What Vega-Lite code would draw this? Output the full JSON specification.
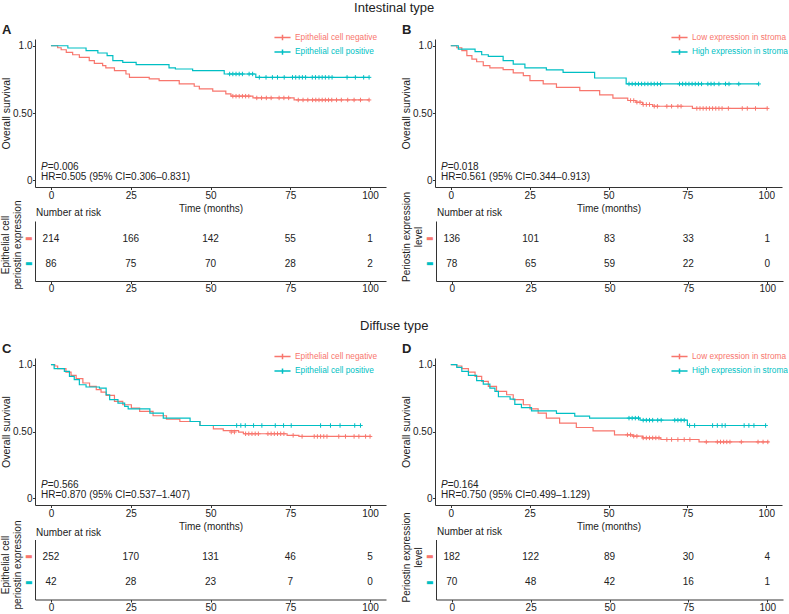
{
"$schema":"https://vega.github.io/schema/vega-lite/v6.json",
"padding":{"left":0,"top":2,"right":0,"bottom":0},
"config":{"font":"Liberation Sans","view":{"stroke":null},
"axis":{"grid":false,"domainColor":"#333","tickColor":"#333","labelColor":"#222","titleColor":"#222","labelFontSize":10,"titleFontSize":10,"titleFontWeight":"normal","tickSize":2.5,"labelPadding":1,"domainWidth":1,"tickWidth":1,"labelFont":"Liberation Sans","titleFont":"Liberation Sans","labelOverlap":false},
"title":{"fontWeight":"normal","color":"#222","font":"Liberation Sans"},
"legend":{"labelFont":"Liberation Sans"}},
"datasets":{
"km":[
{"p":"A","g":"neg","t":0,"s":1},{"p":"A","g":"neg","t":2.1,"s":0.985},{"p":"A","g":"neg","t":3.2,"s":0.97},{"p":"A","g":"neg","t":4.8,"s":0.951},{"p":"A","g":"neg","t":6.8,"s":0.933},{"p":"A","g":"neg","t":8.9,"s":0.914},{"p":"A","g":"neg","t":12,"s":0.889},{"p":"A","g":"neg","t":13.6,"s":0.869},{"p":"A","g":"neg","t":16.2,"s":0.852},{"p":"A","g":"neg","t":17.2,"s":0.835},{"p":"A","g":"neg","t":19.9,"s":0.815},{"p":"A","g":"neg","t":23.5,"s":0.79},{"p":"A","g":"neg","t":24.6,"s":0.765},{"p":"A","g":"neg","t":30.8,"s":0.753},{"p":"A","g":"neg","t":33.9,"s":0.74},{"p":"A","g":"neg","t":40.2,"s":0.716},{"p":"A","g":"neg","t":44.9,"s":0.699},{"p":"A","g":"neg","t":46.5,"s":0.679},{"p":"A","g":"neg","t":50.7,"s":0.662},{"p":"A","g":"neg","t":54.8,"s":0.642},{"p":"A","g":"neg","t":56.4,"s":0.625},{"p":"A","g":"neg","t":63.3,"s":0.612},{"p":"A","g":"neg","t":76.2,"s":0.597},{"p":"A","g":"neg","t":99.7,"s":0.597},
{"p":"A","g":"pos","t":0,"s":1},{"p":"A","g":"pos","t":5.3,"s":0.983},{"p":"A","g":"pos","t":11,"s":0.963},{"p":"A","g":"pos","t":14.7,"s":0.946},{"p":"A","g":"pos","t":17.6,"s":0.926},{"p":"A","g":"pos","t":19.4,"s":0.889},{"p":"A","g":"pos","t":22.5,"s":0.877},{"p":"A","g":"pos","t":26.7,"s":0.859},{"p":"A","g":"pos","t":37,"s":0.835},{"p":"A","g":"pos","t":39,"s":0.827},{"p":"A","g":"pos","t":44.4,"s":0.815},{"p":"A","g":"pos","t":54.3,"s":0.79},{"p":"A","g":"pos","t":64.2,"s":0.765},{"p":"A","g":"pos","t":99.7,"s":0.765},
{"p":"B","g":"neg","t":0,"s":1},{"p":"B","g":"neg","t":1.9,"s":0.985},{"p":"B","g":"neg","t":3.5,"s":0.963},{"p":"B","g":"neg","t":5.1,"s":0.926},{"p":"B","g":"neg","t":6.7,"s":0.901},{"p":"B","g":"neg","t":8.2,"s":0.881},{"p":"B","g":"neg","t":10.3,"s":0.852},{"p":"B","g":"neg","t":12.4,"s":0.835},{"p":"B","g":"neg","t":16.6,"s":0.822},{"p":"B","g":"neg","t":19.8,"s":0.798},{"p":"B","g":"neg","t":23,"s":0.778},{"p":"B","g":"neg","t":25.1,"s":0.741},{"p":"B","g":"neg","t":29.3,"s":0.716},{"p":"B","g":"neg","t":33.5,"s":0.691},{"p":"B","g":"neg","t":40.9,"s":0.667},{"p":"B","g":"neg","t":47.2,"s":0.635},{"p":"B","g":"neg","t":51.4,"s":0.61},{"p":"B","g":"neg","t":56.1,"s":0.593},{"p":"B","g":"neg","t":58.7,"s":0.58},{"p":"B","g":"neg","t":60.8,"s":0.563},{"p":"B","g":"neg","t":64,"s":0.55},{"p":"B","g":"neg","t":76.6,"s":0.534},{"p":"B","g":"neg","t":100.5,"s":0.534},
{"p":"B","g":"pos","t":0,"s":1},{"p":"B","g":"pos","t":2.4,"s":0.975},{"p":"B","g":"pos","t":7.7,"s":0.956},{"p":"B","g":"pos","t":9.8,"s":0.933},{"p":"B","g":"pos","t":11.9,"s":0.921},{"p":"B","g":"pos","t":16.6,"s":0.889},{"p":"B","g":"pos","t":19.8,"s":0.864},{"p":"B","g":"pos","t":23.5,"s":0.835},{"p":"B","g":"pos","t":30.3,"s":0.82},{"p":"B","g":"pos","t":35.6,"s":0.802},{"p":"B","g":"pos","t":45.6,"s":0.76},{"p":"B","g":"pos","t":55.6,"s":0.716},{"p":"B","g":"pos","t":97.7,"s":0.716},
{"p":"C","g":"neg","t":0,"s":1},{"p":"C","g":"neg","t":1.2,"s":0.99},{"p":"C","g":"neg","t":2.1,"s":0.97},{"p":"C","g":"neg","t":4.7,"s":0.945},{"p":"C","g":"neg","t":6.3,"s":0.92},{"p":"C","g":"neg","t":7.9,"s":0.895},{"p":"C","g":"neg","t":10,"s":0.863},{"p":"C","g":"neg","t":12.1,"s":0.838},{"p":"C","g":"neg","t":14.2,"s":0.813},{"p":"C","g":"neg","t":15.7,"s":0.795},{"p":"C","g":"neg","t":17.3,"s":0.77},{"p":"C","g":"neg","t":19.9,"s":0.725},{"p":"C","g":"neg","t":22.5,"s":0.7},{"p":"C","g":"neg","t":25.2,"s":0.675},{"p":"C","g":"neg","t":27.8,"s":0.65},{"p":"C","g":"neg","t":32,"s":0.618},{"p":"C","g":"neg","t":36.2,"s":0.593},{"p":"C","g":"neg","t":40.4,"s":0.575},{"p":"C","g":"neg","t":46.7,"s":0.545},{"p":"C","g":"neg","t":50.9,"s":0.52},{"p":"C","g":"neg","t":54,"s":0.506},{"p":"C","g":"neg","t":58.8,"s":0.496},{"p":"C","g":"neg","t":60.3,"s":0.483},{"p":"C","g":"neg","t":74,"s":0.471},{"p":"C","g":"neg","t":77.7,"s":0.463},{"p":"C","g":"neg","t":100.2,"s":0.463},
{"p":"C","g":"pos","t":0,"s":1},{"p":"C","g":"pos","t":1,"s":0.97},{"p":"C","g":"pos","t":4.2,"s":0.95},{"p":"C","g":"pos","t":5.8,"s":0.913},{"p":"C","g":"pos","t":7.3,"s":0.888},{"p":"C","g":"pos","t":8.9,"s":0.85},{"p":"C","g":"pos","t":11,"s":0.833},{"p":"C","g":"pos","t":15.2,"s":0.825},{"p":"C","g":"pos","t":17.3,"s":0.775},{"p":"C","g":"pos","t":18.4,"s":0.738},{"p":"C","g":"pos","t":21,"s":0.713},{"p":"C","g":"pos","t":23.1,"s":0.688},{"p":"C","g":"pos","t":24.2,"s":0.67},{"p":"C","g":"pos","t":31,"s":0.637},{"p":"C","g":"pos","t":35.2,"s":0.6},{"p":"C","g":"pos","t":43.6,"s":0.575},{"p":"C","g":"pos","t":46.7,"s":0.545},{"p":"C","g":"pos","t":97.2,"s":0.545},
{"p":"D","g":"neg","t":0,"s":1},{"p":"D","g":"neg","t":1.9,"s":0.99},{"p":"D","g":"neg","t":3.5,"s":0.97},{"p":"D","g":"neg","t":5.6,"s":0.945},{"p":"D","g":"neg","t":7.7,"s":0.912},{"p":"D","g":"neg","t":9.8,"s":0.875},{"p":"D","g":"neg","t":11.9,"s":0.838},{"p":"D","g":"neg","t":14.5,"s":0.8},{"p":"D","g":"neg","t":17.7,"s":0.775},{"p":"D","g":"neg","t":19.8,"s":0.738},{"p":"D","g":"neg","t":23,"s":0.7},{"p":"D","g":"neg","t":25.1,"s":0.67},{"p":"D","g":"neg","t":27.7,"s":0.637},{"p":"D","g":"neg","t":30.3,"s":0.6},{"p":"D","g":"neg","t":34.5,"s":0.563},{"p":"D","g":"neg","t":39.8,"s":0.53},{"p":"D","g":"neg","t":45.1,"s":0.505},{"p":"D","g":"neg","t":51.9,"s":0.475},{"p":"D","g":"neg","t":57.7,"s":0.465},{"p":"D","g":"neg","t":60.8,"s":0.452},{"p":"D","g":"neg","t":66.6,"s":0.44},{"p":"D","g":"neg","t":78.7,"s":0.422},{"p":"D","g":"neg","t":100.8,"s":0.422},
{"p":"D","g":"pos","t":0,"s":1},{"p":"D","g":"pos","t":1.9,"s":0.98},{"p":"D","g":"pos","t":3.5,"s":0.95},{"p":"D","g":"pos","t":5.6,"s":0.92},{"p":"D","g":"pos","t":8.2,"s":0.88},{"p":"D","g":"pos","t":10.3,"s":0.855},{"p":"D","g":"pos","t":12.4,"s":0.825},{"p":"D","g":"pos","t":14,"s":0.8},{"p":"D","g":"pos","t":15.1,"s":0.76},{"p":"D","g":"pos","t":18.8,"s":0.742},{"p":"D","g":"pos","t":20.3,"s":0.703},{"p":"D","g":"pos","t":22.4,"s":0.678},{"p":"D","g":"pos","t":25.6,"s":0.655},{"p":"D","g":"pos","t":33.5,"s":0.635},{"p":"D","g":"pos","t":39.3,"s":0.615},{"p":"D","g":"pos","t":44,"s":0.6},{"p":"D","g":"pos","t":60,"s":0.585},{"p":"D","g":"pos","t":75,"s":0.545},{"p":"D","g":"pos","t":99.8,"s":0.545}
],
"cens":[
{"p":"A","g":"neg","t":57,"s":0.625},{"p":"A","g":"neg","t":58,"s":0.625},{"p":"A","g":"neg","t":59,"s":0.625},{"p":"A","g":"neg","t":60,"s":0.625},{"p":"A","g":"neg","t":61,"s":0.625},{"p":"A","g":"neg","t":62,"s":0.625},{"p":"A","g":"neg","t":64.5,"s":0.612},{"p":"A","g":"neg","t":66,"s":0.612},{"p":"A","g":"neg","t":67.5,"s":0.612},{"p":"A","g":"neg","t":69,"s":0.612},{"p":"A","g":"neg","t":71.5,"s":0.612},{"p":"A","g":"neg","t":73,"s":0.612},{"p":"A","g":"neg","t":74.5,"s":0.612},{"p":"A","g":"neg","t":77.5,"s":0.597},{"p":"A","g":"neg","t":79,"s":0.597},{"p":"A","g":"neg","t":80.5,"s":0.597},{"p":"A","g":"neg","t":82,"s":0.597},{"p":"A","g":"neg","t":83,"s":0.597},{"p":"A","g":"neg","t":84,"s":0.597},{"p":"A","g":"neg","t":85,"s":0.597},{"p":"A","g":"neg","t":86,"s":0.597},{"p":"A","g":"neg","t":87,"s":0.597},{"p":"A","g":"neg","t":88,"s":0.597},{"p":"A","g":"neg","t":89.5,"s":0.597},{"p":"A","g":"neg","t":91,"s":0.597},{"p":"A","g":"neg","t":93,"s":0.597},{"p":"A","g":"neg","t":95,"s":0.597},{"p":"A","g":"neg","t":97,"s":0.597},{"p":"A","g":"neg","t":99.7,"s":0.597},
{"p":"A","g":"pos","t":56,"s":0.79},{"p":"A","g":"pos","t":57,"s":0.79},{"p":"A","g":"pos","t":58,"s":0.79},{"p":"A","g":"pos","t":59,"s":0.79},{"p":"A","g":"pos","t":60,"s":0.79},{"p":"A","g":"pos","t":62.1,"s":0.79},{"p":"A","g":"pos","t":63.2,"s":0.79},{"p":"A","g":"pos","t":65.3,"s":0.765},{"p":"A","g":"pos","t":67.4,"s":0.765},{"p":"A","g":"pos","t":69.4,"s":0.765},{"p":"A","g":"pos","t":71,"s":0.765},{"p":"A","g":"pos","t":73.1,"s":0.765},{"p":"A","g":"pos","t":75.7,"s":0.765},{"p":"A","g":"pos","t":76.7,"s":0.765},{"p":"A","g":"pos","t":77.8,"s":0.765},{"p":"A","g":"pos","t":78.8,"s":0.765},{"p":"A","g":"pos","t":79.8,"s":0.765},{"p":"A","g":"pos","t":81.9,"s":0.765},{"p":"A","g":"pos","t":82.9,"s":0.765},{"p":"A","g":"pos","t":84,"s":0.765},{"p":"A","g":"pos","t":85,"s":0.765},{"p":"A","g":"pos","t":86,"s":0.765},{"p":"A","g":"pos","t":87.1,"s":0.765},{"p":"A","g":"pos","t":88.1,"s":0.765},{"p":"A","g":"pos","t":92.8,"s":0.765},{"p":"A","g":"pos","t":95.4,"s":0.765},{"p":"A","g":"pos","t":98,"s":0.765},{"p":"A","g":"pos","t":99.7,"s":0.765},
{"p":"B","g":"neg","t":57,"s":0.593},{"p":"B","g":"neg","t":58,"s":0.593},{"p":"B","g":"neg","t":59,"s":0.58},{"p":"B","g":"neg","t":60,"s":0.58},{"p":"B","g":"neg","t":61,"s":0.563},{"p":"B","g":"neg","t":62,"s":0.563},{"p":"B","g":"neg","t":63,"s":0.563},{"p":"B","g":"neg","t":64.5,"s":0.55},{"p":"B","g":"neg","t":65.5,"s":0.55},{"p":"B","g":"neg","t":68.5,"s":0.55},{"p":"B","g":"neg","t":70,"s":0.55},{"p":"B","g":"neg","t":72,"s":0.55},{"p":"B","g":"neg","t":73,"s":0.55},{"p":"B","g":"neg","t":78,"s":0.534},{"p":"B","g":"neg","t":79,"s":0.534},{"p":"B","g":"neg","t":80,"s":0.534},{"p":"B","g":"neg","t":81,"s":0.534},{"p":"B","g":"neg","t":82,"s":0.534},{"p":"B","g":"neg","t":83,"s":0.534},{"p":"B","g":"neg","t":84,"s":0.534},{"p":"B","g":"neg","t":85,"s":0.534},{"p":"B","g":"neg","t":86,"s":0.534},{"p":"B","g":"neg","t":88,"s":0.534},{"p":"B","g":"neg","t":92.4,"s":0.534},{"p":"B","g":"neg","t":94,"s":0.534},{"p":"B","g":"neg","t":96.6,"s":0.534},{"p":"B","g":"neg","t":100.3,"s":0.534},
{"p":"B","g":"pos","t":56.5,"s":0.716},{"p":"B","g":"pos","t":57.5,"s":0.716},{"p":"B","g":"pos","t":58.5,"s":0.716},{"p":"B","g":"pos","t":59.5,"s":0.716},{"p":"B","g":"pos","t":60.5,"s":0.716},{"p":"B","g":"pos","t":61.5,"s":0.716},{"p":"B","g":"pos","t":62.5,"s":0.716},{"p":"B","g":"pos","t":63.5,"s":0.716},{"p":"B","g":"pos","t":64.5,"s":0.716},{"p":"B","g":"pos","t":65.5,"s":0.716},{"p":"B","g":"pos","t":66.5,"s":0.716},{"p":"B","g":"pos","t":72.5,"s":0.716},{"p":"B","g":"pos","t":73.5,"s":0.716},{"p":"B","g":"pos","t":74.5,"s":0.716},{"p":"B","g":"pos","t":75.5,"s":0.716},{"p":"B","g":"pos","t":76.5,"s":0.716},{"p":"B","g":"pos","t":77.5,"s":0.716},{"p":"B","g":"pos","t":78.5,"s":0.716},{"p":"B","g":"pos","t":79.5,"s":0.716},{"p":"B","g":"pos","t":81.5,"s":0.716},{"p":"B","g":"pos","t":82.5,"s":0.716},{"p":"B","g":"pos","t":83.5,"s":0.716},{"p":"B","g":"pos","t":85,"s":0.716},{"p":"B","g":"pos","t":87.1,"s":0.716},{"p":"B","g":"pos","t":88.2,"s":0.716},{"p":"B","g":"pos","t":91.3,"s":0.716},{"p":"B","g":"pos","t":97.6,"s":0.716},
{"p":"C","g":"neg","t":56.5,"s":0.496},{"p":"C","g":"neg","t":57.5,"s":0.496},{"p":"C","g":"neg","t":61,"s":0.483},{"p":"C","g":"neg","t":62,"s":0.483},{"p":"C","g":"neg","t":63,"s":0.483},{"p":"C","g":"neg","t":64,"s":0.483},{"p":"C","g":"neg","t":65,"s":0.483},{"p":"C","g":"neg","t":68,"s":0.483},{"p":"C","g":"neg","t":69,"s":0.483},{"p":"C","g":"neg","t":70,"s":0.483},{"p":"C","g":"neg","t":71,"s":0.483},{"p":"C","g":"neg","t":72,"s":0.483},{"p":"C","g":"neg","t":73,"s":0.483},{"p":"C","g":"neg","t":75.9,"s":0.471},{"p":"C","g":"neg","t":78.7,"s":0.463},{"p":"C","g":"neg","t":82.5,"s":0.463},{"p":"C","g":"neg","t":83.5,"s":0.463},{"p":"C","g":"neg","t":84.5,"s":0.463},{"p":"C","g":"neg","t":85.5,"s":0.463},{"p":"C","g":"neg","t":86.5,"s":0.463},{"p":"C","g":"neg","t":90.2,"s":0.463},{"p":"C","g":"neg","t":92.3,"s":0.463},{"p":"C","g":"neg","t":95,"s":0.463},{"p":"C","g":"neg","t":96.5,"s":0.463},{"p":"C","g":"neg","t":98.6,"s":0.463},{"p":"C","g":"neg","t":100,"s":0.463},
{"p":"C","g":"pos","t":58.2,"s":0.545},{"p":"C","g":"pos","t":59.5,"s":0.545},{"p":"C","g":"pos","t":60.9,"s":0.545},{"p":"C","g":"pos","t":63.5,"s":0.545},{"p":"C","g":"pos","t":66.1,"s":0.545},{"p":"C","g":"pos","t":70.3,"s":0.545},{"p":"C","g":"pos","t":72.9,"s":0.545},{"p":"C","g":"pos","t":75.3,"s":0.545},{"p":"C","g":"pos","t":84.5,"s":0.545},{"p":"C","g":"pos","t":87.6,"s":0.545},{"p":"C","g":"pos","t":90.6,"s":0.545},{"p":"C","g":"pos","t":95.2,"s":0.545},{"p":"C","g":"pos","t":97,"s":0.545},
{"p":"D","g":"neg","t":56,"s":0.475},{"p":"D","g":"neg","t":57,"s":0.475},{"p":"D","g":"neg","t":58,"s":0.465},{"p":"D","g":"neg","t":59,"s":0.465},{"p":"D","g":"neg","t":61,"s":0.452},{"p":"D","g":"neg","t":62,"s":0.452},{"p":"D","g":"neg","t":63,"s":0.452},{"p":"D","g":"neg","t":64,"s":0.452},{"p":"D","g":"neg","t":65,"s":0.452},{"p":"D","g":"neg","t":66,"s":0.452},{"p":"D","g":"neg","t":68.5,"s":0.44},{"p":"D","g":"neg","t":70,"s":0.44},{"p":"D","g":"neg","t":72,"s":0.44},{"p":"D","g":"neg","t":74,"s":0.44},{"p":"D","g":"neg","t":75.8,"s":0.44},{"p":"D","g":"neg","t":81,"s":0.422},{"p":"D","g":"neg","t":84.5,"s":0.422},{"p":"D","g":"neg","t":85.5,"s":0.422},{"p":"D","g":"neg","t":86.5,"s":0.422},{"p":"D","g":"neg","t":87.5,"s":0.422},{"p":"D","g":"neg","t":88.5,"s":0.422},{"p":"D","g":"neg","t":92.1,"s":0.422},{"p":"D","g":"neg","t":97.4,"s":0.422},{"p":"D","g":"neg","t":99,"s":0.422},{"p":"D","g":"neg","t":100.5,"s":0.422},
{"p":"D","g":"pos","t":56.5,"s":0.6},{"p":"D","g":"pos","t":57.5,"s":0.6},{"p":"D","g":"pos","t":58.5,"s":0.6},{"p":"D","g":"pos","t":59.5,"s":0.6},{"p":"D","g":"pos","t":61,"s":0.585},{"p":"D","g":"pos","t":62,"s":0.585},{"p":"D","g":"pos","t":63,"s":0.585},{"p":"D","g":"pos","t":64,"s":0.585},{"p":"D","g":"pos","t":65.6,"s":0.585},{"p":"D","g":"pos","t":66.7,"s":0.585},{"p":"D","g":"pos","t":71,"s":0.585},{"p":"D","g":"pos","t":72,"s":0.585},{"p":"D","g":"pos","t":73,"s":0.585},{"p":"D","g":"pos","t":74,"s":0.585},{"p":"D","g":"pos","t":75.7,"s":0.545},{"p":"D","g":"pos","t":77.3,"s":0.545},{"p":"D","g":"pos","t":83,"s":0.545},{"p":"D","g":"pos","t":84.5,"s":0.545},{"p":"D","g":"pos","t":86,"s":0.545},{"p":"D","g":"pos","t":87,"s":0.545},{"p":"D","g":"pos","t":93,"s":0.545},{"p":"D","g":"pos","t":94.5,"s":0.545},{"p":"D","g":"pos","t":96.1,"s":0.545},{"p":"D","g":"pos","t":99.8,"s":0.545}
],
"risk":[
{"p":"A","g":"neg","t":0,"n":214},{"p":"A","g":"neg","t":25,"n":166},{"p":"A","g":"neg","t":50,"n":142},{"p":"A","g":"neg","t":75,"n":55},{"p":"A","g":"neg","t":100,"n":1},
{"p":"A","g":"pos","t":0,"n":86},{"p":"A","g":"pos","t":25,"n":75},{"p":"A","g":"pos","t":50,"n":70},{"p":"A","g":"pos","t":75,"n":28},{"p":"A","g":"pos","t":100,"n":2},
{"p":"B","g":"neg","t":0,"n":136},{"p":"B","g":"neg","t":25,"n":101},{"p":"B","g":"neg","t":50,"n":83},{"p":"B","g":"neg","t":75,"n":33},{"p":"B","g":"neg","t":100,"n":1},
{"p":"B","g":"pos","t":0,"n":78},{"p":"B","g":"pos","t":25,"n":65},{"p":"B","g":"pos","t":50,"n":59},{"p":"B","g":"pos","t":75,"n":22},{"p":"B","g":"pos","t":100,"n":0},
{"p":"C","g":"neg","t":0,"n":252},{"p":"C","g":"neg","t":25,"n":170},{"p":"C","g":"neg","t":50,"n":131},{"p":"C","g":"neg","t":75,"n":46},{"p":"C","g":"neg","t":100,"n":5},
{"p":"C","g":"pos","t":0,"n":42},{"p":"C","g":"pos","t":25,"n":28},{"p":"C","g":"pos","t":50,"n":23},{"p":"C","g":"pos","t":75,"n":7},{"p":"C","g":"pos","t":100,"n":0},
{"p":"D","g":"neg","t":0,"n":182},{"p":"D","g":"neg","t":25,"n":122},{"p":"D","g":"neg","t":50,"n":89},{"p":"D","g":"neg","t":75,"n":30},{"p":"D","g":"neg","t":100,"n":4},
{"p":"D","g":"pos","t":0,"n":70},{"p":"D","g":"pos","t":25,"n":48},{"p":"D","g":"pos","t":50,"n":42},{"p":"D","g":"pos","t":75,"n":16},{"p":"D","g":"pos","t":100,"n":1}
],
"ann":[
{"p":"A","pv":"=0.006","hr":"HR=0.505 (95% CI=0.306–0.831)"},
{"p":"B","pv":"=0.018","hr":"HR=0.561 (95% CI=0.344–0.913)"},
{"p":"C","pv":"=0.566","hr":"HR=0.870 (95% CI=0.537–1.407)"},
{"p":"D","pv":"=0.164","hr":"HR=0.750 (95% CI=0.499–1.129)"}
]
},
"resolve":{"scale":{"color":"independent"},"legend":{"color":"independent"}},
"spacing":26,
"vconcat":[
{"title":{"text":"Intestinal type","anchor":"middle","fontSize":13,"offset":9},
 "resolve":{"scale":{"color":"independent"},"legend":{"color":"independent"}},
 "spacing":-23,
 "vconcat":[
 {"hconcat":[
  {"width":351,"height":148,
   "title":{"text":"A","anchor":"start","frame":"group","dx":-33,"fontSize":13,"fontWeight":"bold","offset":-7},
   "layer":[
    {"data":{"name":"km"},"transform":[{"filter":"datum.p==='A'"}],"mark":{"type":"line","interpolate":"step-after","strokeWidth":1.2},
     "encoding":{"x":{"field":"t","type":"quantitative","scale":{"domain":[-5,105],"nice":false,"zero":false},"axis":{"values":[0,25,50,75,100],"title":"Time (months)","titlePadding":3}},
      "y":{"field":"s","type":"quantitative","scale":{"domain":[-0.05,1.05],"nice":false,"zero":false},"axis":{"values":[0,0.25,0.5,0.75,1],"labelExpr":"datum.value===0?'0':datum.value===1?'1.0':format(datum.value,'.2f')","title":"Overall survival","titleFontSize":10.5,"titlePadding":1,"labelPadding":0.5}},
      "color":{"field":"g","type":"nominal","scale":{"domain":["neg","pos"],"range":["#F8766D","#00BFC4"]},
       "legend":{"orient":"none","legendX":240,"legendY":-9,"title":null,"symbolType":"M-1.2,0H1.2M0,-0.4V0.4","symbolSize":180,"symbolStrokeWidth":1.5,"labelFontSize":8.3,"labelOffset":5,"rowPadding":0.6,"labelExpr":"datum.value==='neg'?'Epithelial cell negative':'Epithelial cell positive'","encode":{"labels":{"update":{"fill":[{"test":"datum.value==='neg'","value":"#F8766D"},{"value":"#00BFC4"}]}}}}}}},
    {"data":{"name":"cens"},"transform":[{"filter":"datum.p==='A'"}],"mark":{"type":"point","shape":"M0,-1V1M-1,0H1","size":20,"strokeWidth":1,"opacity":1},
     "encoding":{"x":{"field":"t","type":"quantitative"},"y":{"field":"s","type":"quantitative"},"color":{"field":"g","type":"nominal","legend":null}}},
    {"data":{"name":"ann"},"transform":[{"filter":"datum.p==='A'"}],"mark":{"type":"text","align":"left","fontStyle":"italic","fontSize":10,"color":"#222"},"encoding":{"x":{"datum":-3.1},"y":{"datum":0.1},"text":{"value":"P"}}},
    {"data":{"name":"ann"},"transform":[{"filter":"datum.p==='A'"}],"mark":{"type":"text","align":"left","dx":6.7,"fontSize":10,"color":"#222"},"encoding":{"x":{"datum":-3.1},"y":{"datum":0.1},"text":{"field":"pv"}}},
    {"data":{"name":"ann"},"transform":[{"filter":"datum.p==='A'"}],"mark":{"type":"text","align":"left","fontSize":10,"color":"#222"},"encoding":{"x":{"datum":-3.1},"y":{"datum":0.025},"text":{"field":"hr"}}}
   ]},
  {"width":347,"height":148,
   "title":{"text":"B","anchor":"start","frame":"group","dx":-33,"fontSize":13,"fontWeight":"bold","offset":-7},
   "layer":[
    {"data":{"name":"km"},"transform":[{"filter":"datum.p==='B'"}],"mark":{"type":"line","interpolate":"step-after","strokeWidth":1.2},
     "encoding":{"x":{"field":"t","type":"quantitative","scale":{"domain":[-5,105],"nice":false,"zero":false},"axis":{"values":[0,25,50,75,100],"title":"Time (months)","titlePadding":3}},
      "y":{"field":"s","type":"quantitative","scale":{"domain":[-0.05,1.05],"nice":false,"zero":false},"axis":{"values":[0,0.25,0.5,0.75,1],"labelExpr":"datum.value===0?'0':datum.value===1?'1.0':format(datum.value,'.2f')","title":"Overall survival","titleFontSize":10.5,"titlePadding":1,"labelPadding":0.5}},
      "color":{"field":"g","type":"nominal","scale":{"domain":["neg","pos"],"range":["#F8766D","#00BFC4"]},
       "legend":{"orient":"none","legendX":237,"legendY":-9,"title":null,"symbolType":"M-1.2,0H1.2M0,-0.4V0.4","symbolSize":180,"symbolStrokeWidth":1.5,"labelFontSize":8.3,"labelOffset":5,"rowPadding":0.6,"labelExpr":"datum.value==='neg'?'Low expression in stroma':'High expression in stroma'","encode":{"labels":{"update":{"fill":[{"test":"datum.value==='neg'","value":"#F8766D"},{"value":"#00BFC4"}]}}}}}}},
    {"data":{"name":"cens"},"transform":[{"filter":"datum.p==='B'"}],"mark":{"type":"point","shape":"M0,-1V1M-1,0H1","size":20,"strokeWidth":1,"opacity":1},
     "encoding":{"x":{"field":"t","type":"quantitative"},"y":{"field":"s","type":"quantitative"},"color":{"field":"g","type":"nominal","legend":null}}},
    {"data":{"name":"ann"},"transform":[{"filter":"datum.p==='B'"}],"mark":{"type":"text","align":"left","fontStyle":"italic","fontSize":10,"color":"#222"},"encoding":{"x":{"datum":-3.1},"y":{"datum":0.1},"text":{"value":"P"}}},
    {"data":{"name":"ann"},"transform":[{"filter":"datum.p==='B'"}],"mark":{"type":"text","align":"left","dx":6.7,"fontSize":10,"color":"#222"},"encoding":{"x":{"datum":-3.1},"y":{"datum":0.1},"text":{"field":"pv"}}},
    {"data":{"name":"ann"},"transform":[{"filter":"datum.p==='B'"}],"mark":{"type":"text","align":"left","fontSize":10,"color":"#222"},"encoding":{"x":{"datum":-3.1},"y":{"datum":0.025},"text":{"field":"hr"}}}
   ]}
 ],"spacing":15,"resolve":{"scale":{"color":"independent"},"legend":{"color":"independent"}}},
 {"hconcat":[
  {"width":351,"height":60,
   "title":{"text":"Number at risk","anchor":"start","frame":"group","fontSize":10,"offset":-18,"dx":1},
   "data":{"name":"risk"},"transform":[{"filter":"datum.p==='A'"}],
   "mark":{"type":"text","fontSize":10,"color":"#222"},
   "encoding":{"x":{"field":"t","type":"quantitative","scale":{"domain":[-5,105],"nice":false,"zero":false},"axis":{"values":[0,25,50,75,100],"title":null,"labelPadding":0}},
    "y":{"field":"g","type":"nominal","scale":{"type":"point","domain":["neg","pos"],"padding":0.7},"axis":{"title":["Epithelial cell","periostin expression"],"titleY":23.5,"labelExpr":"'▬'","labelFont":"DejaVu Sans","labelFontSize":8,"labelColor":{"condition":{"test":"datum.value==='neg'","value":"#F8766D"},"value":"#00BFC4"},"ticks":false,"labelPadding":3,"titlePadding":2}},
    "text":{"field":"n","type":"quantitative"}}},
  {"width":347,"height":60,
   "title":{"text":"Number at risk","anchor":"start","frame":"group","fontSize":10,"offset":-26.5,"dx":1},
   "data":{"name":"risk"},"transform":[{"filter":"datum.p==='B'"}],
   "mark":{"type":"text","fontSize":10,"color":"#222"},
   "encoding":{"x":{"field":"t","type":"quantitative","scale":{"domain":[-5,105],"nice":false,"zero":false},"axis":{"values":[0,25,50,75,100],"title":null,"labelPadding":0}},
    "y":{"field":"g","type":"nominal","scale":{"type":"point","domain":["neg","pos"],"padding":0.7},"axis":{"title":["Periostin expression","level"],"titleY":15.5,"labelExpr":"'▬'","labelFont":"DejaVu Sans","labelFontSize":8,"labelColor":{"condition":{"test":"datum.value==='neg'","value":"#F8766D"},"value":"#00BFC4"},"ticks":false,"labelPadding":3,"titlePadding":2}},
    "text":{"field":"n","type":"quantitative"}}}
 ],"spacing":15}
 ]},
{"title":{"text":"Diffuse type","anchor":"middle","fontSize":13,"offset":10},
 "resolve":{"scale":{"color":"independent"},"legend":{"color":"independent"}},
 "spacing":-20.5,
 "vconcat":[
 {"hconcat":[
  {"width":351,"height":147,
   "title":{"text":"C","anchor":"start","frame":"group","dx":-33,"fontSize":13,"fontWeight":"bold","offset":-7},
   "layer":[
    {"data":{"name":"km"},"transform":[{"filter":"datum.p==='C'"}],"mark":{"type":"line","interpolate":"step-after","strokeWidth":1.2},
     "encoding":{"x":{"field":"t","type":"quantitative","scale":{"domain":[-5,105],"nice":false,"zero":false},"axis":{"values":[0,25,50,75,100],"title":"Time (months)","titlePadding":3}},
      "y":{"field":"s","type":"quantitative","scale":{"domain":[-0.05,1.05],"nice":false,"zero":false},"axis":{"values":[0,0.25,0.5,0.75,1],"labelExpr":"datum.value===0?'0':datum.value===1?'1.0':format(datum.value,'.2f')","title":"Overall survival","titleFontSize":10.5,"titlePadding":1,"labelPadding":0.5}},
      "color":{"field":"g","type":"nominal","scale":{"domain":["neg","pos"],"range":["#F8766D","#00BFC4"]},
       "legend":{"orient":"none","legendX":240,"legendY":-9,"title":null,"symbolType":"M-1.2,0H1.2M0,-0.4V0.4","symbolSize":180,"symbolStrokeWidth":1.5,"labelFontSize":8.3,"labelOffset":5,"rowPadding":0.6,"labelExpr":"datum.value==='neg'?'Epithelial cell negative':'Epithelial cell positive'","encode":{"labels":{"update":{"fill":[{"test":"datum.value==='neg'","value":"#F8766D"},{"value":"#00BFC4"}]}}}}}}},
    {"data":{"name":"cens"},"transform":[{"filter":"datum.p==='C'"}],"mark":{"type":"point","shape":"M0,-1V1M-1,0H1","size":20,"strokeWidth":1,"opacity":1},
     "encoding":{"x":{"field":"t","type":"quantitative"},"y":{"field":"s","type":"quantitative"},"color":{"field":"g","type":"nominal","legend":null}}},
    {"data":{"name":"ann"},"transform":[{"filter":"datum.p==='C'"}],"mark":{"type":"text","align":"left","fontStyle":"italic","fontSize":10,"color":"#222"},"encoding":{"x":{"datum":-3.1},"y":{"datum":0.1},"text":{"value":"P"}}},
    {"data":{"name":"ann"},"transform":[{"filter":"datum.p==='C'"}],"mark":{"type":"text","align":"left","dx":6.7,"fontSize":10,"color":"#222"},"encoding":{"x":{"datum":-3.1},"y":{"datum":0.1},"text":{"field":"pv"}}},
    {"data":{"name":"ann"},"transform":[{"filter":"datum.p==='C'"}],"mark":{"type":"text","align":"left","fontSize":10,"color":"#222"},"encoding":{"x":{"datum":-3.1},"y":{"datum":0.025},"text":{"field":"hr"}}}
   ]},
  {"width":347,"height":147,
   "title":{"text":"D","anchor":"start","frame":"group","dx":-33,"fontSize":13,"fontWeight":"bold","offset":-7},
   "layer":[
    {"data":{"name":"km"},"transform":[{"filter":"datum.p==='D'"}],"mark":{"type":"line","interpolate":"step-after","strokeWidth":1.2},
     "encoding":{"x":{"field":"t","type":"quantitative","scale":{"domain":[-5,105],"nice":false,"zero":false},"axis":{"values":[0,25,50,75,100],"title":"Time (months)","titlePadding":3}},
      "y":{"field":"s","type":"quantitative","scale":{"domain":[-0.05,1.05],"nice":false,"zero":false},"axis":{"values":[0,0.25,0.5,0.75,1],"labelExpr":"datum.value===0?'0':datum.value===1?'1.0':format(datum.value,'.2f')","title":"Overall survival","titleFontSize":10.5,"titlePadding":1,"labelPadding":0.5}},
      "color":{"field":"g","type":"nominal","scale":{"domain":["neg","pos"],"range":["#F8766D","#00BFC4"]},
       "legend":{"orient":"none","legendX":237,"legendY":-9,"title":null,"symbolType":"M-1.2,0H1.2M0,-0.4V0.4","symbolSize":180,"symbolStrokeWidth":1.5,"labelFontSize":8.3,"labelOffset":5,"rowPadding":0.6,"labelExpr":"datum.value==='neg'?'Low expression in stroma':'High expression in stroma'","encode":{"labels":{"update":{"fill":[{"test":"datum.value==='neg'","value":"#F8766D"},{"value":"#00BFC4"}]}}}}}}},
    {"data":{"name":"cens"},"transform":[{"filter":"datum.p==='D'"}],"mark":{"type":"point","shape":"M0,-1V1M-1,0H1","size":20,"strokeWidth":1,"opacity":1},
     "encoding":{"x":{"field":"t","type":"quantitative"},"y":{"field":"s","type":"quantitative"},"color":{"field":"g","type":"nominal","legend":null}}},
    {"data":{"name":"ann"},"transform":[{"filter":"datum.p==='D'"}],"mark":{"type":"text","align":"left","fontStyle":"italic","fontSize":10,"color":"#222"},"encoding":{"x":{"datum":-3.1},"y":{"datum":0.1},"text":{"value":"P"}}},
    {"data":{"name":"ann"},"transform":[{"filter":"datum.p==='D'"}],"mark":{"type":"text","align":"left","dx":6.7,"fontSize":10,"color":"#222"},"encoding":{"x":{"datum":-3.1},"y":{"datum":0.1},"text":{"field":"pv"}}},
    {"data":{"name":"ann"},"transform":[{"filter":"datum.p==='D'"}],"mark":{"type":"text","align":"left","fontSize":10,"color":"#222"},"encoding":{"x":{"datum":-3.1},"y":{"datum":0.025},"text":{"field":"hr"}}}
   ]}
 ],"spacing":15,"resolve":{"scale":{"color":"independent"},"legend":{"color":"independent"}}},
 {"hconcat":[
  {"width":351,"height":60,
   "title":{"text":"Number at risk","anchor":"start","frame":"group","fontSize":10,"offset":-17.5,"dx":1},
   "data":{"name":"risk"},"transform":[{"filter":"datum.p==='C'"}],
   "mark":{"type":"text","fontSize":10,"color":"#222"},
   "encoding":{"x":{"field":"t","type":"quantitative","scale":{"domain":[-5,105],"nice":false,"zero":false},"axis":{"values":[0,25,50,75,100],"title":null,"labelPadding":0}},
    "y":{"field":"g","type":"nominal","scale":{"type":"point","domain":["neg","pos"],"padding":0.654},"axis":{"title":["Epithelial cell","periostin expression"],"titleY":25,"labelExpr":"'▬'","labelFont":"DejaVu Sans","labelFontSize":8,"labelColor":{"condition":{"test":"datum.value==='neg'","value":"#F8766D"},"value":"#00BFC4"},"ticks":false,"labelPadding":3,"titlePadding":2}},
    "text":{"field":"n","type":"quantitative"}}},
  {"width":347,"height":60,
   "title":{"text":"Number at risk","anchor":"start","frame":"group","fontSize":10,"offset":-25.5,"dx":1},
   "data":{"name":"risk"},"transform":[{"filter":"datum.p==='D'"}],
   "mark":{"type":"text","fontSize":10,"color":"#222"},
   "encoding":{"x":{"field":"t","type":"quantitative","scale":{"domain":[-5,105],"nice":false,"zero":false},"axis":{"values":[0,25,50,75,100],"title":null,"labelPadding":0}},
    "y":{"field":"g","type":"nominal","scale":{"type":"point","domain":["neg","pos"],"padding":0.654},"axis":{"title":["Periostin expression","level"],"titleY":17.5,"labelExpr":"'▬'","labelFont":"DejaVu Sans","labelFontSize":8,"labelColor":{"condition":{"test":"datum.value==='neg'","value":"#F8766D"},"value":"#00BFC4"},"ticks":false,"labelPadding":3,"titlePadding":2}},
    "text":{"field":"n","type":"quantitative"}}}
 ],"spacing":15}
 ]}
]
}
